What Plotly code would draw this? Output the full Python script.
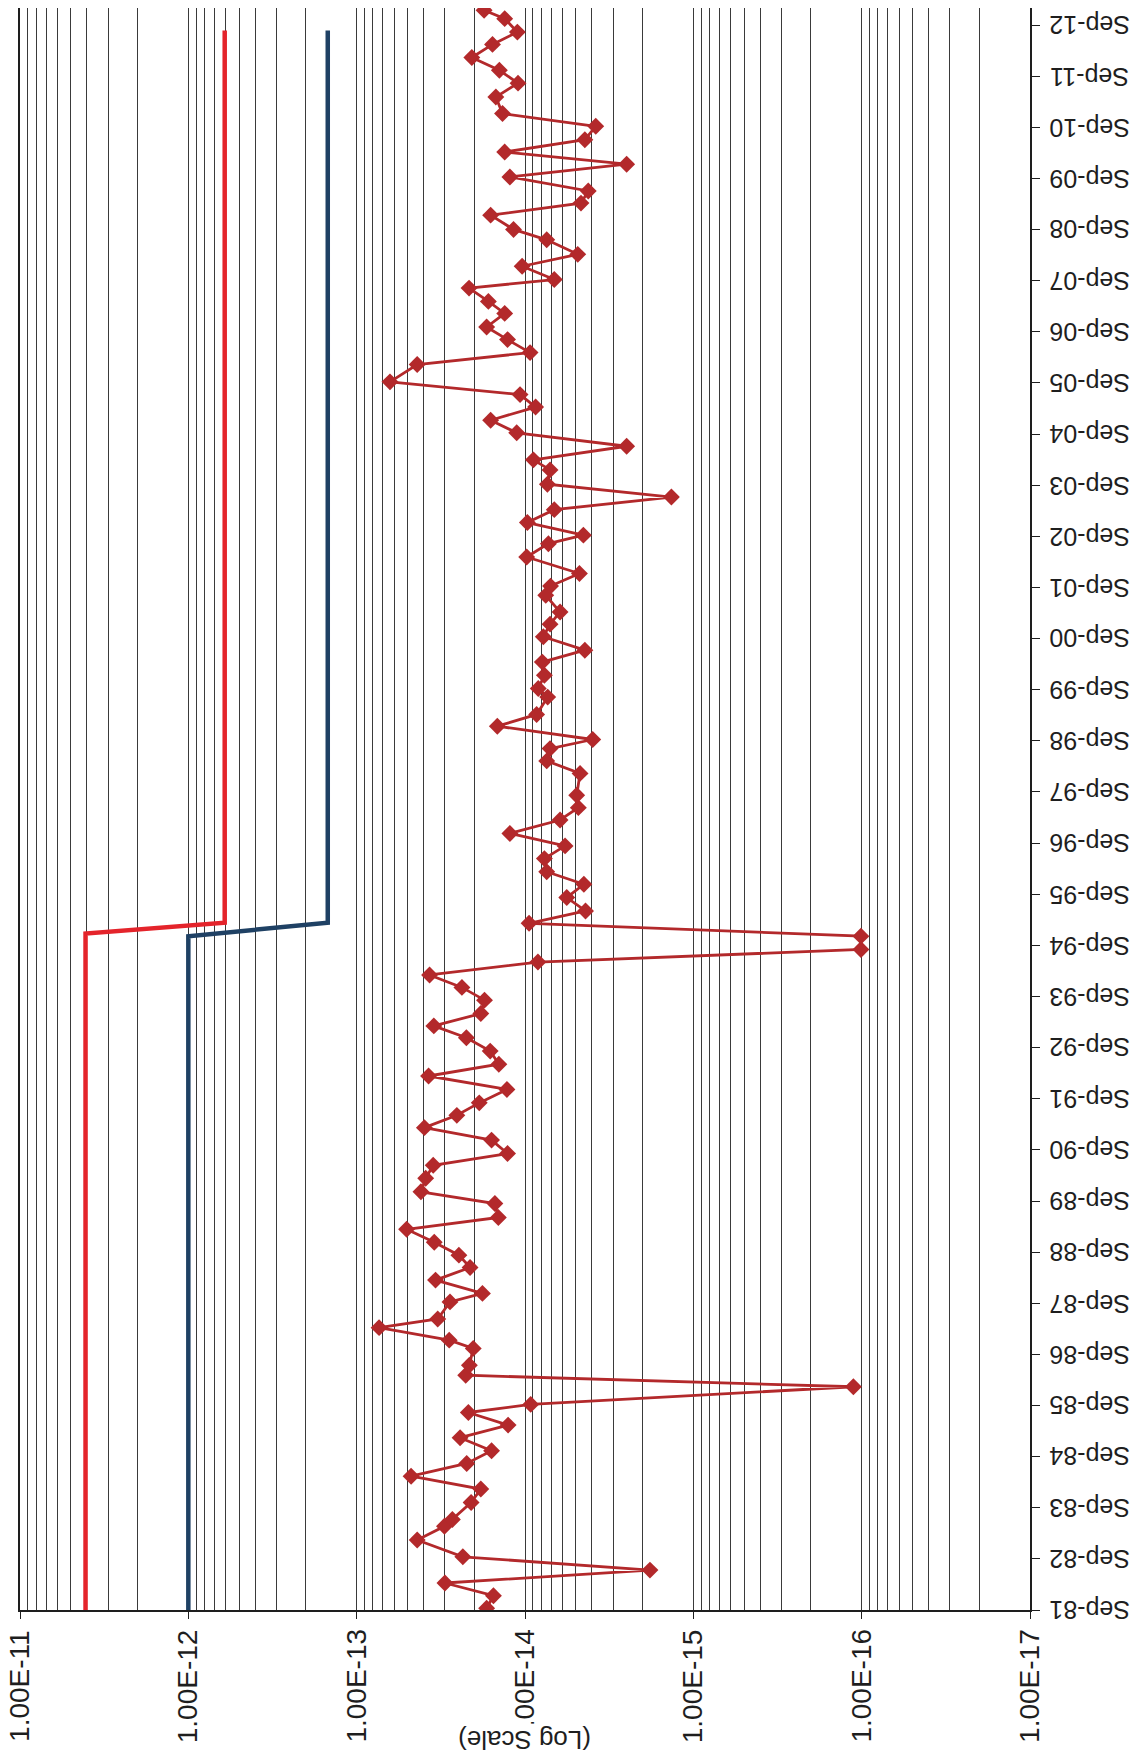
import math
import plotly.graph_objects as go

# ---- data ----
scatter_dates = [
    "1981-09-13", "1981-12-12", "1982-03-13", "1982-06-13", "1982-09-16", "1983-01-14",
    "1983-04-22", "1983-06-10", "1983-10-09", "1984-01-13", "1984-04-14", "1984-07-14",
    "1984-10-13", "1985-01-14", "1985-04-14", "1985-07-13", "1985-09-09", "1986-01-13",
    "1986-04-05", "1986-06-16", "1986-10-14", "1986-12-12", "1987-03-11", "1987-05-12",
    "1987-09-11", "1987-11-11", "1988-02-14", "1988-05-14", "1988-08-10", "1988-11-10",
    "1989-02-11", "1989-05-06", "1989-08-14", "1989-11-06", "1990-02-10", "1990-05-14",
    "1990-08-06", "1990-11-10", "1991-02-07", "1991-05-06", "1991-08-03", "1991-11-07",
    "1992-02-11", "1992-05-05", "1992-08-07", "1992-11-10", "1993-02-03", "1993-05-02",
    "1993-08-06", "1993-11-05", "1994-02-02", "1994-05-05", "1994-08-03", "1994-11-06",
    "1995-02-06", "1995-05-05", "1995-08-09", "1995-11-12", "1996-02-09", "1996-05-13",
    "1996-08-12", "1996-11-09", "1997-02-13", "1997-05-12", "1997-08-09", "1998-01-12",
    "1998-04-11", "1998-07-08", "1998-09-11", "1998-12-15", "1999-03-09", "1999-07-11",
    "1999-09-10", "1999-12-14", "2000-03-17", "2000-06-10", "2000-09-14", "2000-12-13",
    "2001-03-10", "2001-07-07", "2001-09-11", "2001-12-10", "2002-04-07", "2002-07-11",
    "2002-09-10", "2002-12-09", "2003-03-11", "2003-06-09", "2003-09-09", "2003-12-20",
    "2004-03-01", "2004-06-06", "2004-09-10", "2004-12-09", "2005-03-13", "2005-06-10",
    "2005-09-09", "2006-01-11", "2006-04-06", "2006-07-08", "2006-10-06", "2007-01-11",
    "2007-04-07", "2007-07-11", "2007-09-10", "2007-12-14", "2008-03-08", "2008-06-20",
    "2008-09-02", "2008-12-13", "2009-03-09", "2009-06-04", "2009-09-12", "2009-12-12",
    "2010-03-09", "2010-06-05", "2010-09-09", "2010-12-09", "2011-04-06", "2011-07-14",
    "2011-10-14", "2012-01-13", "2012-04-16", "2012-07-13", "2012-10-17", "2012-12-16",
]
scatter_values = [
    1.69e-14, 1.54e-14, 2.99e-14, 1.81e-15, 2.34e-14, 4.37e-14,
    3.01e-14, 2.70e-14, 2.09e-14, 1.83e-14, 4.75e-14, 2.22e-14,
    1.58e-14, 2.43e-14, 1.26e-14, 2.17e-14, 9.25e-15, 1.12e-16,
    2.25e-14, 2.14e-14, 2.03e-14, 2.82e-14, 7.36e-14, 3.30e-14,
    2.79e-14, 1.79e-14, 3.40e-14, 2.12e-14, 2.47e-14, 3.46e-14,
    5.05e-14, 1.44e-14, 1.51e-14, 4.15e-14, 3.89e-14, 3.51e-14,
    1.27e-14, 1.58e-14, 3.96e-14, 2.54e-14, 1.87e-14, 1.28e-14,
    3.74e-14, 1.43e-14, 1.61e-14, 2.23e-14, 3.48e-14, 1.83e-14,
    1.74e-14, 2.37e-14, 3.69e-14, 8.38e-15, 1.01e-16, 1.01e-16,
    9.46e-15, 4.37e-15, 5.65e-15, 4.47e-15, 7.43e-15, 7.67e-15,
    5.78e-15, 1.23e-14, 6.19e-15, 4.82e-15, 4.93e-15, 4.71e-15,
    7.43e-15, 7.10e-15, 3.96e-15, 1.46e-14, 8.53e-15, 7.33e-15,
    8.34e-15, 7.67e-15, 7.89e-15, 4.41e-15, 7.78e-15, 7.10e-15,
    6.19e-15, 7.53e-15, 7.05e-15, 4.75e-15, 9.77e-15, 7.26e-15,
    4.50e-15, 9.68e-15, 6.70e-15, 1.35e-15, 7.36e-15, 7.10e-15,
    8.91e-15, 2.49e-15, 1.12e-14, 1.60e-14, 8.65e-15, 1.07e-14,
    6.34e-14, 4.37e-14, 9.33e-15, 1.27e-14, 1.69e-14, 1.32e-14,
    1.65e-14, 2.15e-14, 6.70e-15, 1.04e-14, 4.86e-15, 7.43e-15,
    1.17e-14, 1.60e-14, 4.65e-15, 4.21e-15, 1.23e-14, 2.49e-15,
    1.32e-14, 4.41e-15, 3.80e-15, 1.36e-14, 1.49e-14, 1.10e-14,
    1.42e-14, 2.07e-14, 1.56e-14, 1.11e-14, 1.32e-14, 1.75e-14,
]

red_dates = ["1981-09-01", "1994-11-25", "1995-02-10", "2012-07-25"]
red_values = [4.08e-12, 4.08e-12, 6.08e-13, 6.08e-13]

blue_dates = ["1981-09-01", "1994-11-06", "1995-02-10", "2012-07-25"]
blue_values = [1.0e-12, 1.0e-12, 1.485e-13, 1.485e-13]

value_ticks = [1e-11, 1e-12, 1e-13, 1e-14, 1e-15, 1e-16, 1e-17]
value_tick_labels = ["1.00E-11", "1.00E-12", "1.00E-13", "1.00E-14",
                     "1.00E-15", "1.00E-16", "1.00E-17"]

date_ticks = ["1981-09-01", "1982-09-01", "1983-09-01", "1984-09-01", "1985-09-01",
              "1986-09-01", "1987-09-01", "1988-09-01", "1989-09-01", "1990-09-01",
              "1991-09-01", "1992-09-01", "1993-09-01", "1994-09-01", "1995-09-01",
              "1996-09-01", "1997-09-01", "1998-09-01", "1999-09-01", "2000-09-01",
              "2001-09-01", "2002-09-01", "2003-09-01", "2004-09-01", "2005-09-01",
              "2006-09-01", "2007-09-01", "2008-09-01", "2009-09-01", "2010-09-01",
              "2011-09-01", "2012-09-01"]
date_tick_labels = ["Sep-81", "Sep-82", "Sep-83", "Sep-84", "Sep-85", "Sep-86",
                    "Sep-87", "Sep-88", "Sep-89", "Sep-90", "Sep-91", "Sep-92",
                    "Sep-93", "Sep-94", "Sep-95", "Sep-96", "Sep-97", "Sep-98",
                    "Sep-99", "Sep-00", "Sep-01", "Sep-02", "Sep-03", "Sep-04",
                    "Sep-05", "Sep-06", "Sep-07", "Sep-08", "Sep-09", "Sep-10",
                    "Sep-11", "Sep-12"]
axis_title = "(Log Scale)"

FONT = "Liberation Sans, Arial, sans-serif"
TXT = "#1e1e1e"
GRID = "#3a3a3a"

fig = go.Figure()

fig.add_trace(go.Scatter(
    x=red_values, y=red_dates, mode="lines",
    line=dict(color="#e4242b", width=4.5), showlegend=False,
))
fig.add_trace(go.Scatter(
    x=blue_values, y=blue_dates, mode="lines",
    line=dict(color="#1f4164", width=4.5), showlegend=False,
))
fig.add_trace(go.Scatter(
    x=scatter_values, y=scatter_dates, mode="lines+markers",
    line=dict(color="#b3292b", width=2.8),
    marker=dict(symbol="diamond", size=13, color="#b3292b"),
    showlegend=False,
))

fig.update_xaxes(
    type="log",
    range=[-11, -17],
    tickmode="array",
    tickvals=value_ticks,
    showticklabels=False,
    ticks="outside",
    ticklen=7,
    tickcolor=TXT,
    showline=True, linecolor=TXT, linewidth=2, mirror=True,
    showgrid=True, gridcolor=GRID, gridwidth=1,
    minor=dict(dtick="D1", showgrid=True, gridcolor=GRID, gridwidth=1, ticks=""),
    zeroline=False,
    automargin=False,
)
fig.update_yaxes(
    type="date",
    side="right",
    range=["1981-09-01", "2013-01-01"],
    tickmode="array",
    tickvals=date_ticks,
    showticklabels=False,
    ticks="outside",
    ticklen=8,
    tickcolor=TXT,
    showline=True, linecolor=TXT, linewidth=2, mirror=True,
    showgrid=False,
    zeroline=False,
    automargin=False,
)

# value-axis tick labels (rotated, reading bottom to top)
for v, lab in zip(value_ticks, value_tick_labels):
    fig.add_annotation(
        text=lab, textangle=-90,
        xref="x", yref="paper", x=math.log10(v), y=-0.0474,
        xanchor="center", yanchor="middle", showarrow=False,
        font=dict(family=FONT, size=28, color=TXT),
    )

# date-axis tick labels (upside down)
for d, lab in zip(date_ticks, date_tick_labels):
    fig.add_annotation(
        text=lab, textangle=180,
        xref="paper", yref="y", x=1.0584, y=d,
        xanchor="center", yanchor="middle", showarrow=False,
        font=dict(family=FONT, size=25, color=TXT),
    )

fig.add_annotation(
    text=axis_title, textangle=180,
    xref="paper", yref="paper", x=0.499, y=-0.0815,
    xanchor="center", yanchor="middle",
    showarrow=False, bgcolor="white",
    font=dict(family=FONT, size=26, color=TXT),
)

# page body adds an 8 px offset, so the figure is sized/margined to compensate
fig.update_layout(
    width=1136, height=1750,
    margin=dict(l=12, r=114, t=0, b=148),
    paper_bgcolor="white", plot_bgcolor="white",
)

fig.write_html("out.html")
